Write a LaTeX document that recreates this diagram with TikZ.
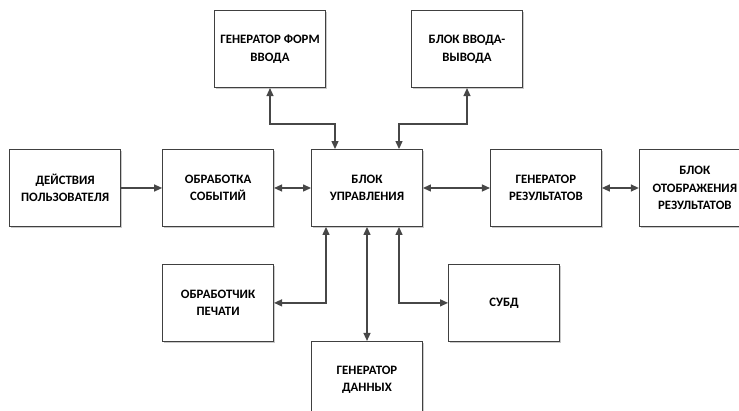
\documentclass[tikz,border=0pt]{standalone}
\usepackage{fontspec}
\setmainfont{Carlito}
\usetikzlibrary{positioning, arrows.meta, shadows}

\begin{document}
\begin{tikzpicture}[
        x=1pt, y=-1pt,
        node distance=37pt,
        block/.style={rectangle, draw=black!75, fill=white, line width=0.9pt, minimum width=111pt, minimum height=77pt, align=center, font=\fontsize{12.8}{17.5}\selectfont\bfseries, drop shadow={shadow xshift=1.5pt, shadow yshift=-1.5pt, fill=black!35, opacity=0.6}},
        arrow/.style={draw=black!72, line width=1.3pt, -{Triangle[length=8pt, width=7pt]}},
        biarrow/.style={arrow, {Triangle[length=8pt, width=7pt]}-{Triangle[length=8pt, width=7pt]}}
    ]
    \useasboundingbox (0,0) rectangle (739,411);

    % Nodes
    \node (Upr) [block] at (367,188) {БЛОК\\УПРАВЛЕНИЯ};
    \node (Obr) [block, left=of Upr] {ОБРАБОТКА\\СОБЫТИЙ};
    \node (Deyst) [block, left=41pt of Obr] {ДЕЙСТВИЯ\\ПОЛЬЗОВАТЕЛЯ};
    \node (GenRes) [block, right=67pt of Upr] {ГЕНЕРАТОР\\РЕЗУЛЬТАТОВ};
    \node (Otobr) [block, right=of GenRes] {БЛОК\\ОТОБРАЖЕНИЯ\\РЕЗУЛЬТАТОВ};

    % Upper branch
    \node (GenForm) [block, above=61pt of Upr, xshift=-97pt] {ГЕНЕРАТОР ФОРМ\\ВВОДА};
    \node (BlokVV) [block, above=61pt of Upr, xshift=100pt] {БЛОК ВВОДА-\\ВЫВОДА};

    % Lower branch
    \node (Pechat) [block, below=of Obr] {ОБРАБОТЧИК\\ПЕЧАТИ};
    \node (Subd) [block, below=of Upr, xshift=137pt] {СУБД};
    \node (GenDan) [block, below=114pt of Upr] {ГЕНЕРАТОР\\ДАННЫХ};

    % Arrows
    \draw [arrow] (Deyst) -- (Obr);
    \draw [biarrow] (Obr) -- (Upr);
    \draw [biarrow] (Upr) -- (GenRes);
    \draw [biarrow] (GenRes) -- (Otobr);

    \draw [biarrow] (GenForm.south) -- ++(0,-36pt) -| ([xshift=-32pt]Upr.north);
    \draw [biarrow] (BlokVV.south) -- ++(0,-36pt) -| ([xshift=32pt]Upr.north);

    \draw [biarrow] ([xshift=-41pt]Upr.south) |- (Pechat.east);
    \draw [biarrow] (Upr.south) -- (GenDan.north);
    \draw [biarrow] ([xshift=32pt]Upr.south) |- (Subd.west);

\end{tikzpicture}
\end{document}
